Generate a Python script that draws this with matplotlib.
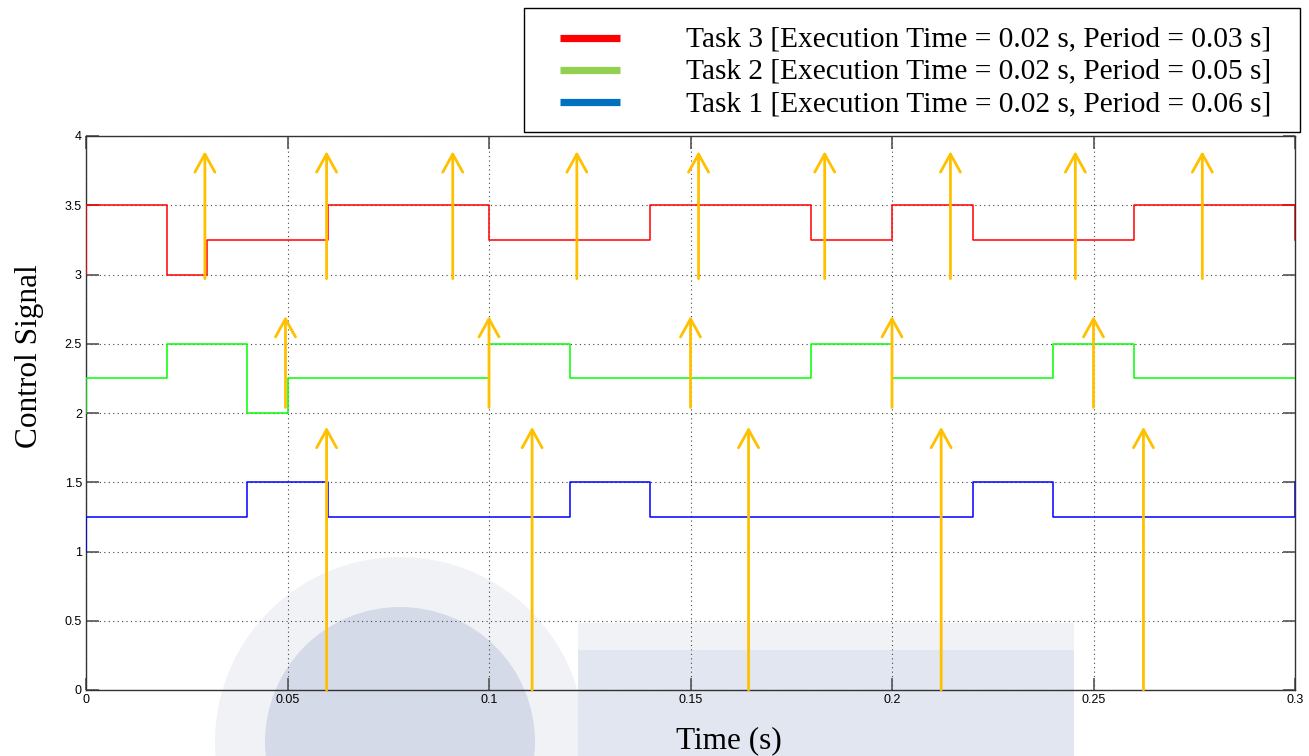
import matplotlib
matplotlib.use("Agg")
import matplotlib.pyplot as plt
from matplotlib import font_manager
from matplotlib.lines import Line2D
from matplotlib.patches import Ellipse, Rectangle

# ---------------------------------------------------------------- data
# control signal of each task as (switch time, level) pairs, drawn as post-steps
task3_times = [0.0, 0.0, 0.02, 0.03, 0.06, 0.10, 0.14, 0.18, 0.20, 0.22, 0.26, 0.30]
task3_levels = [3.0, 3.5, 3.0, 3.25, 3.5, 3.25, 3.5, 3.25, 3.5, 3.25, 3.5, 3.25]

task2_times = [0.0, 0.0, 0.02, 0.04, 0.05, 0.10, 0.12, 0.18, 0.20, 0.24, 0.26, 0.30]
task2_levels = [2.0, 2.25, 2.5, 2.0, 2.25, 2.5, 2.25, 2.5, 2.25, 2.5, 2.25, 2.25]

task1_times = [0.0, 0.0, 0.04, 0.06, 0.12, 0.14, 0.22, 0.24, 0.30]
task1_levels = [1.0, 1.25, 1.5, 1.25, 1.5, 1.25, 1.5, 1.25, 1.5]

# release instants (arrows) for each task, with arrow base and tip levels
task3_release = [0.0295, 0.0597, 0.091, 0.1218, 0.152, 0.1833, 0.2145, 0.2455, 0.277]
task3_arrow = (2.97, 3.89)
task2_release = [0.0495, 0.100, 0.150, 0.200, 0.250]
task2_arrow = (2.04, 2.70)
task1_release = [0.0597, 0.1107, 0.1644, 0.2122, 0.2624]
task1_arrow = (0.0, 1.90)

x_ticks = [0.0, 0.05, 0.10, 0.15, 0.20, 0.25, 0.30]
x_tick_labels = ["0", "0.05", "0.1", "0.15", "0.2", "0.25", "0.3"]
y_ticks = [0.0, 0.5, 1.0, 1.5, 2.0, 2.5, 3.0, 3.5, 4.0]
y_tick_labels = ["0", "0.5", "1", "1.5", "2", "2.5", "3", "3.5", "4"]

legend_labels = [
    "Task 3 [Execution Time = 0.02 s, Period = 0.03 s]",
    "Task 2 [Execution Time = 0.02 s, Period = 0.05 s]",
    "Task 1 [Execution Time = 0.02 s, Period = 0.06 s]",
]
legend_colors = ["#FF0000", "#92D050", "#0070C0"]

# ---------------------------------------------------------------- style
W, H = 1309, 756
installed = {f.name for f in font_manager.fontManager.ttflist}
tick_font = ["Liberation Sans Narrow", "DejaVu Sans"] if "Liberation Sans Narrow" in installed else ["Liberation Sans", "DejaVu Sans"]
serif = ["Liberation Serif", "DejaVu Serif"]
ARROW = "#FFC000"


def fig_xy(x, y):
    """pixel position (from top-left) -> figure fraction"""
    return x / W, 1 - y / H


fig = plt.figure(figsize=(W / 100, H / 100), dpi=100)
fig.patch.set_facecolor("white")

# faint university watermark sitting behind the lower plot area
wm_light, wm_dark, wm_block = "#F1F2F5", "#D5DAE8", "#E2E6F0"
cx, cy = fig_xy(400, 742)
fig.patches.append(Ellipse((cx, cy), 2 * 185 / W, 2 * 185 / H, transform=fig.transFigure,
                           facecolor=wm_light, edgecolor="none", zorder=0))
fig.patches.append(Ellipse((cx, cy), 2 * 135 / W, 2 * 135 / H, transform=fig.transFigure,
                           facecolor=wm_dark, edgecolor="none", zorder=0))
fig.patches.append(Rectangle(fig_xy(578, 756), 496 / W, 133 / H, transform=fig.transFigure,
                             facecolor=wm_light, edgecolor="none", zorder=0))
fig.patches.append(Rectangle(fig_xy(578, 756), 496 / W, 106 / H, transform=fig.transFigure,
                             facecolor=wm_block, edgecolor="none", zorder=0))

ax = fig.add_axes([86 / W, 66 / H, 1209 / W, 554 / H])
ax.set_facecolor("none")
ax.set_zorder(2)

ax.step(task3_times, task3_levels, where="post", color="#FF0000", lw=1.1, zorder=3)
ax.step(task2_times, task2_levels, where="post", color="#00FF00", lw=1.1, zorder=3)
ax.step(task1_times, task1_levels, where="post", color="#0000FF", lw=1.1, zorder=3)

arrow_props = dict(arrowstyle="->,head_length=1.3,head_width=0.72", mutation_scale=10,
                   color=ARROW, lw=2.0, shrinkA=0, shrinkB=0)
for releases, (base, tip) in [(task3_release, task3_arrow),
                              (task2_release, task2_arrow),
                              (task1_release, task1_arrow)]:
    for t in releases:
        ax.annotate("", xy=(t, tip), xytext=(t, base), arrowprops=arrow_props, zorder=4)

ax.set_xlim(0, 0.3)
ax.set_ylim(0, 4)
ax.set_xticks(x_ticks)
ax.set_xticklabels(x_tick_labels, family=tick_font, fontsize=9)
ax.set_yticks(y_ticks)
ax.set_yticklabels(y_tick_labels, family=tick_font, fontsize=9)
ax.tick_params(direction="in", length=9, width=1.2, color="#555555", top=True, right=True, pad=3)
ax.grid(True, linestyle=(0, (1, 3)), color="#444444", lw=0.8)
ax.set_axisbelow(True)
for sp in ax.spines.values():
    sp.set_color("#333333")
    sp.set_linewidth(1.0)

fig.text(*fig_xy(729, 741), "Time (s)", family=serif, fontsize=22.5, ha="center", va="center")
fig.text(*fig_xy(30, 356), "Control Signal", family=serif, fontsize=22.5, rotation=90,
         ha="center", va="center")

# legend box above the axes
fig.patches.append(Rectangle(fig_xy(524, 132), 776 / W, 124 / H, transform=fig.transFigure,
                             facecolor="white", edgecolor="black", lw=1.0, zorder=5))
for i, (label, color) in enumerate(zip(legend_labels, legend_colors)):
    y = 37.5 + i * 32.3
    fig.add_artist(Line2D([560 / W, 620 / W], [1 - y / H] * 2, color=color, lw=5.2,
                          solid_capstyle="butt", transform=fig.transFigure, zorder=6))
    fig.text(*fig_xy(686, y + 2), label, family=serif, fontsize=21.2, ha="left", va="center",
             zorder=6)

fig.savefig("out.png", dpi=100, facecolor="white")
